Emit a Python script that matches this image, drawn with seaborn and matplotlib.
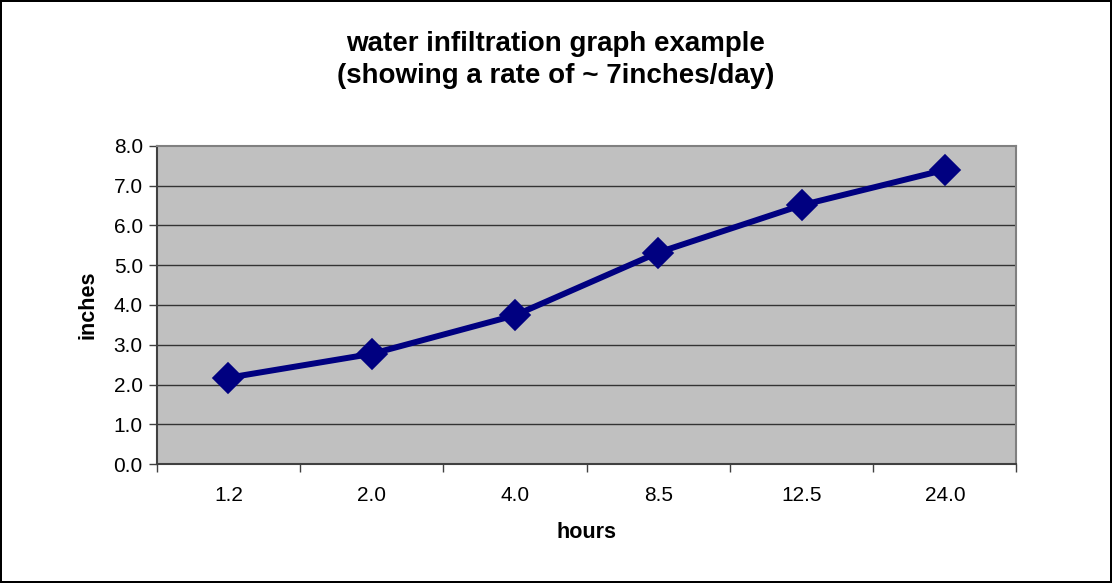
import numpy as np
import pandas as pd
import matplotlib
matplotlib.use("Agg")
import matplotlib.pyplot as plt
import seaborn as sns

# values
hours = ["1.2", "2.0", "4.0", "8.5", "12.5", "24.0"]
inches = [2.17, 2.77, 3.74, 5.32, 6.51, 7.40]
yticks = [0.0, 1.0, 2.0, 3.0, 4.0, 5.0, 6.0, 7.0, 8.0]

sns.set_theme(style="white")
plt.rcParams["font.family"] = ["Liberation Sans", "DejaVu Sans"]
plt.rcParams["text.color"] = "black"
plt.rcParams["axes.labelcolor"] = "black"

df = pd.DataFrame({"hours": hours, "inches": inches})

fig = plt.figure(figsize=(11.12, 5.83), dpi=100)
fig.patch.set_facecolor("white")
fig.patch.set_edgecolor("black")
fig.patch.set_linewidth(1.5)
ax = fig.add_axes([0.1409, 0.2041, 0.7732, 0.5455])
ax.set_facecolor("#c0c0c0")

sns.pointplot(data=df, x="hours", y="inches", order=hours, color="#000080",
              markers="D", markersize=13, linewidth=4.3, errorbar=None, ax=ax)

ax.set_xlim(-0.5, len(hours) - 0.5)
ax.set_ylim(0, 8)
ax.set_yticks(yticks)
ax.set_yticklabels([f"{v:.1f}" for v in yticks], fontsize=15)
ax.set_xticks(range(len(hours)))
ax.set_xticklabels(hours, fontsize=15)
ax.set_xticks(np.arange(-0.5, len(hours)), minor=True)
ax.tick_params(axis="x", which="major", length=0, pad=16, labelcolor="black")
ax.tick_params(axis="x", which="minor", length=6, width=1, color="#404040", bottom=True)
ax.tick_params(axis="y", length=6, width=1, color="#404040", left=True, pad=4,
               labelcolor="black")

for v in yticks[1:-1]:
    ax.axhline(v, color="#333333", linewidth=1, zorder=0.5)

for side in ["top", "right"]:
    ax.spines[side].set_color("#808080")
    ax.spines[side].set_linewidth(1.5)
for side in ["left", "bottom"]:
    ax.spines[side].set_color("#404040")
    ax.spines[side].set_linewidth(1.5)

ax.set_xlabel("hours", fontsize=15.5, fontweight="bold", labelpad=12)
ax.set_ylabel("inches", fontsize=15.5, fontweight="bold", labelpad=11)
fig.text(0.5, 1 - 60 / 583, "water infiltration graph example\n(showing a rate of ~ 7inches/day)",
         fontsize=20, fontweight="bold", ha="center", va="center", linespacing=1.3)

fig.savefig("out.png", dpi=100)
